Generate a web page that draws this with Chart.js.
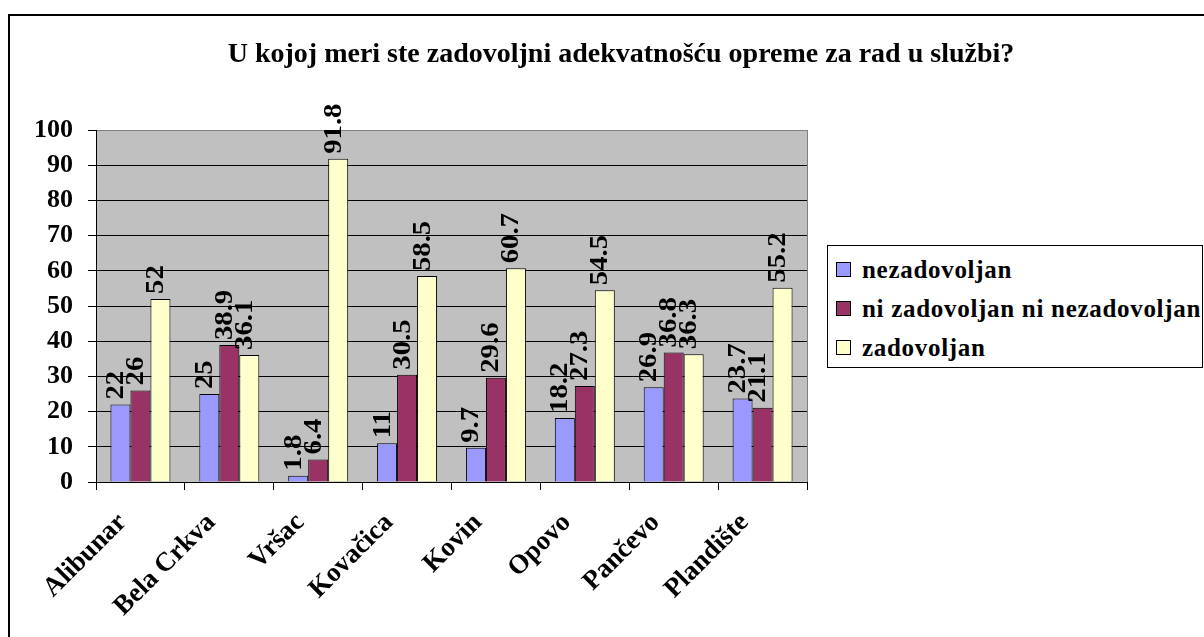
<!DOCTYPE html>
<html>
<head>
<meta charset="utf-8">
<title>Zadovoljstvo opremom</title>
<script src="https://cdn.jsdelivr.net/npm/chart.js@4.4.1/dist/chart.umd.min.js"></script>
<style>
    body {
        margin: 0;
        width: 1204px;
        height: 637px;
        overflow: hidden;
        position: relative;
        background: #fff;
        font-family: "Liberation Serif", "Times New Roman", serif;
    }
    #frame {
        position: absolute;
        left: 8px;
        top: 14px;
        width: 1300px;
        height: 700px;
        border: 2px solid #000;
    }
    #chart {
        position: absolute;
        left: 0;
        top: 0;
    }
    #title {
        position: absolute;
        left: 9px;
        width: 1224px;
        top: 39px;
        text-align: center;
        font-size: 28px;
        font-weight: bold;
        line-height: 28px;
        white-space: nowrap;
    }
    #legend {
        position: absolute;
        left: 827px;
        top: 245px;
        width: 374px;
        padding-top: 4px;
        border: 1px solid #000;
        background: #fff;
    }
    .legend-item {
        display: flex;
        align-items: center;
        height: 39px;
        font-size: 25px;
        font-weight: bold;
        letter-spacing: 0.7px;
        white-space: nowrap;
    }
    .legend-box {
        width: 13px;
        height: 13px;
        border: 1px solid #000;
        margin-left: 8px;
        margin-right: 11px;
    }
</style>
</head>
<body>
<div id="frame"></div>
<canvas id="chart" width="1204" height="637"></canvas>
<div id="title"></div>
<div id="legend"></div>

<script>
// Data
const chartTitle = 'U kojoj meri ste zadovoljni adekvatnošću opreme za rad u službi?';
const categories = ['Alibunar', 'Bela Crkva', 'Vršac', 'Kovačica', 'Kovin', 'Opovo', 'Pančevo', 'Plandište'];
const seriesNames = ['nezadovoljan', 'ni zadovoljan ni nezadovoljan', 'zadovoljan'];
const nezadovoljan = [22, 25, 1.8, 11, 9.7, 18.2, 26.9, 23.7];
const niZadovoljanNiNezadovoljan = [26, 38.9, 6.4, 30.5, 29.6, 27.3, 36.8, 21.1];
const zadovoljan = [52, 36.1, 91.8, 58.5, 60.7, 54.5, 36.3, 55.2];
const seriesColors = ['#9999FF', '#993366', '#FFFFCC'];

const serif = '"Liberation Serif", "Times New Roman", serif';

// Gray plot area and its right border
const plotArea = {
    id: 'plotArea',
    beforeDraw(chart) {
        const { ctx, chartArea } = chart;
        ctx.save();
        ctx.fillStyle = '#C0C0C0';
        ctx.fillRect(chartArea.left, chartArea.top, chartArea.width, chartArea.height);
        ctx.restore();
    },
    beforeDatasetsDraw(chart) {
        const { ctx, chartArea } = chart;
        ctx.save();
        ctx.strokeStyle = '#808080';
        ctx.lineWidth = 1;
        ctx.beginPath();
        ctx.moveTo(Math.round(chartArea.right) + 0.5, chartArea.top);
        ctx.lineTo(Math.round(chartArea.right) + 0.5, chartArea.bottom);
        ctx.stroke();
        ctx.restore();
    }
};

// Vertical value labels above the bars (glyphs a bit wide, like the Excel export)
const barLabels = {
    id: 'barLabels',
    afterDatasetsDraw(chart) {
        const ctx = chart.ctx;
        ctx.save();
        ctx.font = 'bold 25px ' + serif;
        ctx.fillStyle = '#000';
        ctx.textAlign = 'left';
        ctx.textBaseline = 'middle';
        chart.data.datasets.forEach((ds, i) => {
            chart.getDatasetMeta(i).data.forEach((bar, j) => {
                ctx.save();
                ctx.translate(bar.x - 4, bar.y - 5);
                ctx.rotate(-Math.PI / 2);
                ctx.scale(1.15, 1);
                ctx.fillText(String(ds.data[j]), 0, 0);
                ctx.restore();
            });
        });
        ctx.restore();
    }
};

const datasets = [nezadovoljan, niZadovoljanNiNezadovoljan, zadovoljan].map((values, i) => ({
    label: seriesNames[i],
    data: values,
    backgroundColor: seriesColors[i],
    borderColor: '#000',
    borderWidth: 1,
    categoryPercentage: 0.675,
    barPercentage: 1
}));

const chart = new Chart(document.getElementById('chart'), {
    type: 'bar',
    data: { labels: categories, datasets: datasets },
    options: {
        responsive: false,
        animation: false,
        devicePixelRatio: 1,
        layout: { padding: { left: 10, right: 1204 - 807, top: 130, bottom: 0 } },
        plugins: {
            legend: { display: false },
            title: { display: false },
            tooltip: { enabled: false }
        },
        scales: {
            x: {
                offset: true,
                grid: { offset: true, drawOnChartArea: false, drawTicks: true, tickLength: 8, color: '#000' },
                border: { color: '#000', width: 1 },
                ticks: {
                    color: '#000',
                    font: { family: serif, size: 27, weight: 'bold' },
                    minRotation: 45,
                    maxRotation: 45,
                    autoSkip: false,
                    padding: 17,
                    labelOffset: -18
                },
                afterFit: scale => { scale.height = 155; }
            },
            y: {
                min: 0,
                max: 100,
                ticks: {
                    stepSize: 10,
                    color: '#000',
                    font: { family: serif, size: 26, weight: 'bold' },
                    padding: 15
                },
                grid: {
                    color: c => (c.tick && c.tick.value === 100 ? '#808080' : '#000'),
                    tickColor: '#000',
                    tickLength: 8
                },
                border: { color: '#000', width: 1 },
                afterFit: scale => { scale.width = 86; }
            }
        }
    },
    plugins: [plotArea, barLabels]
});

// Title and legend
document.getElementById('title').textContent = chartTitle;
const legend = document.getElementById('legend');
chart.data.datasets.forEach(ds => {
    const item = document.createElement('div');
    item.className = 'legend-item';
    item.innerHTML = `<span class="legend-box" style="background:${ds.backgroundColor}"></span><span>${ds.label}</span>`;
    legend.appendChild(item);
});
</script>
</body>
</html>
